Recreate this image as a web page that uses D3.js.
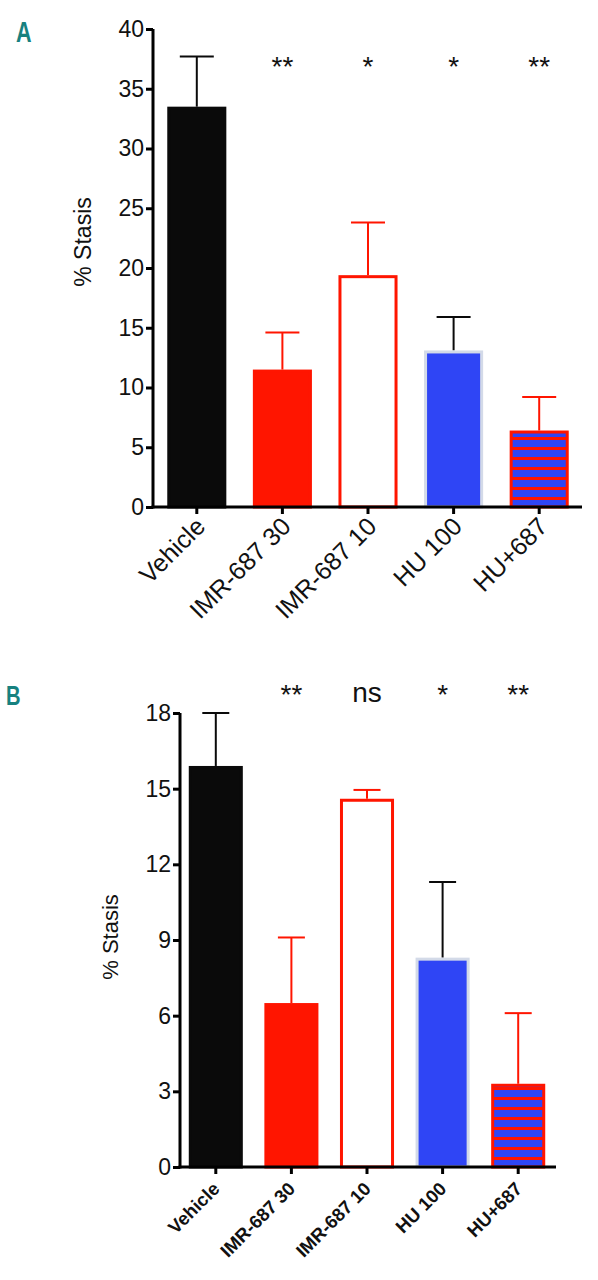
<!DOCTYPE html>
<html>
<head>
<meta charset="utf-8">
<script src="https://cdn.jsdelivr.net/npm/d3@7"></script>
<style>
  body { margin: 0; background: #fff; }
  text { font-family: "Liberation Sans", Arial, sans-serif; }
</style>
</head>
<body>
<script>
// data
var categories = ["Vehicle", "IMR-687 30", "IMR-687 10", "HU 100", "HU+687"];
var valuesA = [33.5, 11.5, 19.4, 13.1, 6.4];
var errorsA = [4.2, 3.1, 4.4, 2.8, 2.8];
var signifA = ["", "**", "*", "*", "**"];
var ticksA = [0, 5, 10, 15, 20, 25, 30, 35, 40];

var valuesB = [15.9, 6.5, 14.6, 8.3, 3.3];
var errorsB = [2.1, 2.6, 0.35, 3.0, 2.8];
var signifB = ["", "**", "ns", "*", "**"];
var ticksB = [0, 3, 6, 9, 12, 15, 18];

var red = "#ff1500", blue = "#2f45f5", black = "#0a0a0a";
var barStyle = [
  {fill: black, stroke: black, err: black},
  {fill: red, stroke: red, err: red},
  {fill: "#fff", stroke: red, err: red},
  {fill: blue, stroke: "#d3dae8", err: black},
  {fill: "url(#hatch)", stroke: red, err: red}
];

var svg = d3.select("body").append("svg").attr("width", 598).attr("height", 1280);

var defs = svg.append("defs");
var pat = defs.append("pattern").attr("id", "hatch")
  .attr("patternUnits", "userSpaceOnUse").attr("width", 10).attr("height", 10);
pat.append("rect").attr("width", 10).attr("height", 10).attr("fill", blue);
pat.append("rect").attr("y", 7).attr("width", 10).attr("height", 3).attr("fill", red);

function panel(opt) {
  var g = svg.append("g");
  var x = d3.scaleBand().domain(categories).range(opt.xr)
    .paddingInner(opt.pad).paddingOuter(opt.pad / 2);
  var y = d3.scaleLinear().domain([0, opt.max]).range(opt.yr);
  var bw = x.bandwidth();

  // error bars
  g.selectAll("g.err").data(categories).enter().append("g").attr("class", "err")
    .each(function (d, i) {
      var cx = x(d) + bw / 2;
      var e = d3.select(this).attr("stroke", barStyle[i].err).attr("stroke-width", 2);
      e.append("line").attr("x1", cx).attr("x2", cx)
        .attr("y1", y(opt.values[i])).attr("y2", y(opt.values[i] + opt.errors[i]));
      e.append("line").attr("x1", cx - opt.cap / 2).attr("x2", cx + opt.cap / 2)
        .attr("y1", y(opt.values[i] + opt.errors[i])).attr("y2", y(opt.values[i] + opt.errors[i]));
    });

  // bars
  g.selectAll("rect.bar").data(categories).enter().append("rect").attr("class", "bar")
    .attr("x", function (d) { return x(d) + 1.5; })
    .attr("width", bw - 3)
    .attr("y", function (d, i) { return y(opt.values[i]) + 1.5; })
    .attr("height", function (d, i) { return y(0) - y(opt.values[i]) - 1.5; })
    .attr("fill", function (d, i) { return barStyle[i].fill; })
    .attr("stroke", function (d, i) { return barStyle[i].stroke; })
    .attr("stroke-width", 3);

  // axes
  var ya = g.append("g").attr("transform", "translate(" + opt.axisX + ",0)")
    .call(d3.axisLeft(y).tickValues(opt.ticks).tickSize(7).tickPadding(2).tickSizeOuter(0));
  ya.selectAll("line, path").attr("stroke", "#000").attr("stroke-width", 3);
  ya.select("path").attr("d", "M0," + (y(0) + 1.5) + "V" + y(opt.max));
  ya.selectAll("text").attr("font-size", opt.tickFont).attr("fill", "#111")
    .attr("font-family", "Liberation Sans, Arial, sans-serif");

  var xa = g.append("g").attr("transform", "translate(0," + y(0) + ")")
    .call(d3.axisBottom(x).tickSize(7).tickSizeOuter(0));
  xa.selectAll("line, path").attr("stroke", "#000").attr("stroke-width", 3);
  xa.select("path").attr("d", "M" + (opt.axisX - 1.5) + ",0H" + opt.xr[1]);
  xa.selectAll("text")
    .attr("x", 0).attr("y", 0).attr("dy", 0)
    .attr("text-anchor", "end")
    .attr("transform", opt.labelShift + " rotate(-45)")
    .attr("font-size", opt.labelFont).attr("font-weight", opt.labelWeight)
    .attr("fill", "#111")
    .attr("font-family", "Liberation Sans, Arial, sans-serif");

  // significance marks
  g.selectAll("text.sig").data(categories).enter().append("text").attr("class", "sig")
    .attr("x", function (d) { return x(d) + bw / 2; })
    .attr("y", function (d, i) { return opt.signif[i] == "ns" ? opt.nsY : opt.sigY; })
    .attr("text-anchor", "middle")
    .attr("font-size", opt.sigFont).attr("fill", "#111")
    .text(function (d, i) { return opt.signif[i]; });

  // y title
  g.append("text")
    .attr("transform", "translate(" + opt.titleX + "," + opt.titleY + ") rotate(-90)")
    .attr("text-anchor", "middle").attr("font-size", opt.titleFont).attr("fill", "#111")
    .text("% Stasis");

  // panel letter
  g.append("text")
    .attr("transform", "translate(" + opt.letterX + "," + opt.letterY + ") scale(0.72,1)")
    .attr("font-size", opt.letterFont).attr("font-weight", "bold")
    .attr("fill", "#17817f")
    .text(opt.letter);
}

panel({
  values: valuesA, errors: errorsA, signif: signifA, ticks: ticksA, max: 40,
  xr: [154, 582], yr: [507, 29], pad: 0.31, axisX: 153, cap: 34,
  tickFont: 23, labelFont: 25, labelWeight: "normal", labelShift: "translate(10,21)",
  sigFont: 28, sigY: 76, nsY: 76,
  titleX: 91, titleY: 242, titleFont: 23,
  letter: "A", letterX: 16, letterY: 42, letterFont: 30
});

panel({
  values: valuesB, errors: errorsB, signif: signifB, ticks: ticksB, max: 18,
  xr: [178, 556], yr: [1167, 713], pad: 0.285, axisX: 180, cap: 27,
  tickFont: 23, labelFont: 18.5, labelWeight: "bold", labelShift: "translate(5,23)",
  sigFont: 28, sigY: 704, nsY: 702,
  titleX: 118, titleY: 937, titleFont: 22,
  letter: "B", letterX: 6, letterY: 705, letterFont: 28
});
</script>
</body>
</html>
